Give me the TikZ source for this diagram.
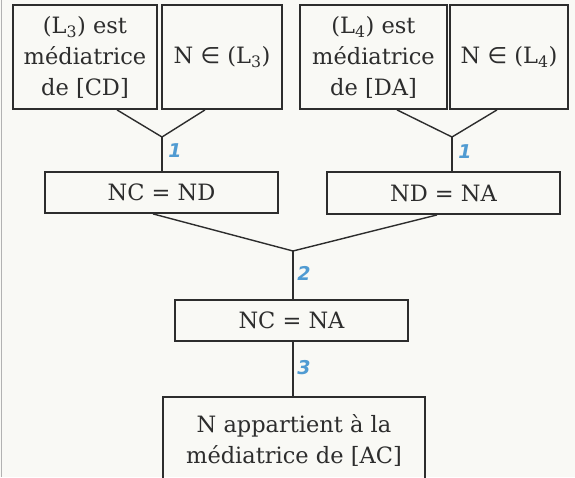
\documentclass[tikz,border=0pt]{standalone}
\usepackage{fontspec}
\setmainfont{DejaVu Serif}
\newfontfamily\numfont{DejaVu Sans}
\newcommand\elem{{\numfont ∈}}
\usetikzlibrary{positioning,calc}
\definecolor{paper}{RGB}{249,249,245}
\definecolor{ink}{RGB}{45,45,45}
\definecolor{stepblue}{RGB}{80,155,210}

\begin{document}
\begin{tikzpicture}[
    x=1pt, y=-1pt,
    line width=1.4pt,
    ink,
    box/.style = {
      draw,
      line width=1.8pt,
      rectangle,
      align=center,
      inner sep=0pt,
      text=ink,
      font=\fontsize{22.5}{31}\selectfont
    },
    stepnum/.style = {
      text=stepblue,
      inner sep=0pt,
      font=\numfont\bfseries\itshape\fontsize{19}{19}\selectfont
    }
  ]
  \useasboundingbox[fill=paper] (0,0) rectangle (575,477);
  \draw[gray!60, line width=1.5pt] (1.5,0) -- (1.5,477);

  % top row
  \node[box, minimum width=144pt, minimum height=104pt] (med3) at (85,57)
    {(L\textsubscript{3}) est\\médiatrice\\de [CD]};
  \node[box, minimum width=120pt, minimum height=104pt] (in3) at (222,57)
    {N \elem{} (L\textsubscript{3})};
  \node[box, minimum width=147pt, minimum height=104pt] (med4) at (373.5,57)
    {(L\textsubscript{4}) est\\médiatrice\\de [DA]};
  \node[box, minimum width=118pt, minimum height=104pt] (in4) at (509,57)
    {N \elem{} (L\textsubscript{4})};

  \coordinate (jL) at (162,137);
  \coordinate (jR) at (452,137);
  \coordinate (j2) at (293,251);

  \node[box, minimum width=233pt, minimum height=41pt] (ncnd) at (161.5,192.5) {NC = ND};
  \node[box, minimum width=233pt, minimum height=42pt] (ndna) at (443.5,193) {ND = NA};
  \node[box, minimum width=233pt, minimum height=41pt] (ncna) at (291.5,320.5) {NC = NA};
  \node[box, minimum width=262pt, minimum height=86pt] (final) at (294,440)
    {N appartient à la\\médiatrice de [AC]};

  \draw ([xshift=32pt]med3.south) -- (jL) -- ([xshift=-17pt]in3.south);
  \draw (jL) -- (jL |- ncnd.north);
  \draw ([xshift=23.5pt]med4.south) -- (jR) -- ([xshift=-12pt]in4.south);
  \draw (jR) -- (jR |- ndna.north);

  \draw ([xshift=-8.5pt]ncnd.south) -- (j2) -- ([xshift=-6.5pt]ndna.south);
  \draw (j2) -- (j2 |- ncna.north);
  \draw (j2 |- ncna.south) -- (j2 |- final.north);

  \node[stepnum] (s1l) at (175,151) {1};
  \node[stepnum] (s1r) at (465,152) {1};
  \node[stepnum] (s2) at (304,273) {2};
  \node[stepnum] (s3) at (304,368) {3};

\end{tikzpicture}
\end{document}
